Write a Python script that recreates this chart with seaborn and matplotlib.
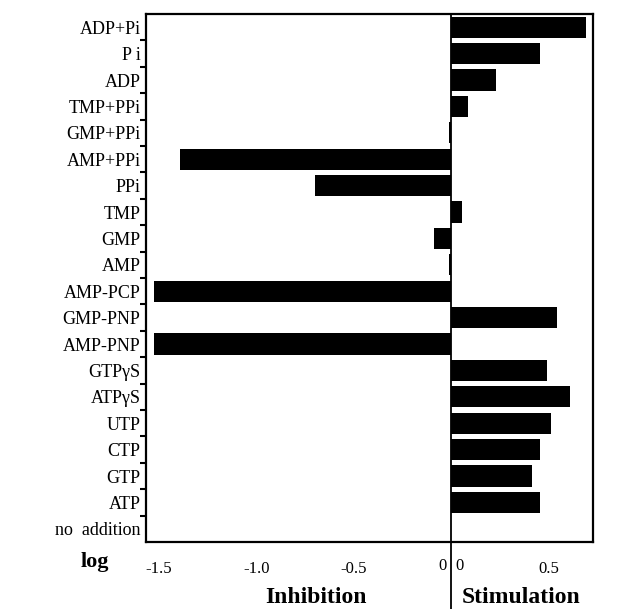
import matplotlib
matplotlib.use('Agg')
import matplotlib.pyplot as plt
import matplotlib.transforms as mtransforms
import pandas as pd
import seaborn as sns

# data (log of relative activity)
labels = ['ADP+Pi', 'P i', 'ADP', 'TMP+PPi', 'GMP+PPi', 'AMP+PPi', 'PPi', 'TMP',
          'GMP', 'AMP', 'AMP-PCP', 'GMP-PNP', 'AMP-PNP', 'GTPγS', 'ATPγS',
          'UTP', 'CTP', 'GTP', 'ATP', 'no  addition']
values = [0.69, 0.456, 0.226, 0.087, -0.012, -1.39, -0.70, 0.056,
          -0.087, -0.015, -1.523, 0.54, -1.523, 0.49, 0.605,
          0.51, 0.456, 0.415, 0.456, 0.0]
left_ticks = [-1.5, -1.0, -0.5]
left_tick_labels = ['-1.5', '-1.0', '-0.5']
right_ticks = [0.5]
right_tick_labels = ['0.5']

df = pd.DataFrame({'compound': labels, 'value': values})

sns.set_theme(style='white')
plt.rcParams['font.family'] = ['Liberation Serif', 'DejaVu Serif']
plt.rcParams['text.color'] = 'black'
plt.rcParams['xtick.color'] = 'black'
plt.rcParams['ytick.color'] = 'black'
plt.rcParams['axes.labelcolor'] = 'black'

fig = plt.figure(figsize=(6.39, 6.09), dpi=100)
ax = fig.add_axes([0.2285, 0.110, 0.6995, 0.867])

sns.barplot(data=df, x='value', y='compound', orient='h', color='black',
            saturation=1, width=0.8, linewidth=0, ax=ax)

ax.set_xlim(-1.565, 0.725)
ax.set_ylim(len(labels) - 0.5, -0.5)

# zero line runs through the axes and down to the bottom of the figure
ax.axvline(0, ymin=-0.13, ymax=1, color='black', linewidth=1.3, clip_on=False)

for s in ax.spines.values():
    s.set_visible(True)
    s.set_color('black')
    s.set_linewidth(1.6)

ax.set_xlabel('')
ax.set_ylabel('')

# y labels at centres, short outward ticks at the boundaries
ax.set_yticks(range(len(labels)))
ax.set_yticklabels(labels, fontsize=13)
ax.set_yticks([i + 0.5 for i in range(len(labels) - 1)], minor=True)
ax.tick_params(axis='y', which='major', length=0, pad=4, labelcolor='black')
ax.tick_params(axis='y', which='minor', direction='out', length=4, width=1.5,
               color='black', left=True)

ax.set_xticks(left_ticks + right_ticks)
ax.set_xticklabels(left_tick_labels + right_tick_labels, fontsize=12)
ax.tick_params(axis='x', length=0, pad=14, labelcolor='black')

trans = mtransforms.blended_transform_factory(ax.transData, ax.transAxes)
ax.text(-0.025, -0.031, '0', transform=trans, ha='right', va='top', fontsize=12)
ax.text(0.022, -0.031, '0', transform=trans, ha='left', va='top', fontsize=12)

fig.text(95 / 639, 1 - 567 / 609, 'log', ha='center', va='baseline',
         fontsize=16, fontweight='bold')
fig.text(316 / 639, 1 - 603 / 609, 'Inhibition', ha='center', va='baseline',
         fontsize=17, fontweight='bold')
fig.text(462 / 639, 1 - 603 / 609, 'Stimulation', ha='left', va='baseline',
         fontsize=17, fontweight='bold')

fig.savefig('out.png', dpi=100)
